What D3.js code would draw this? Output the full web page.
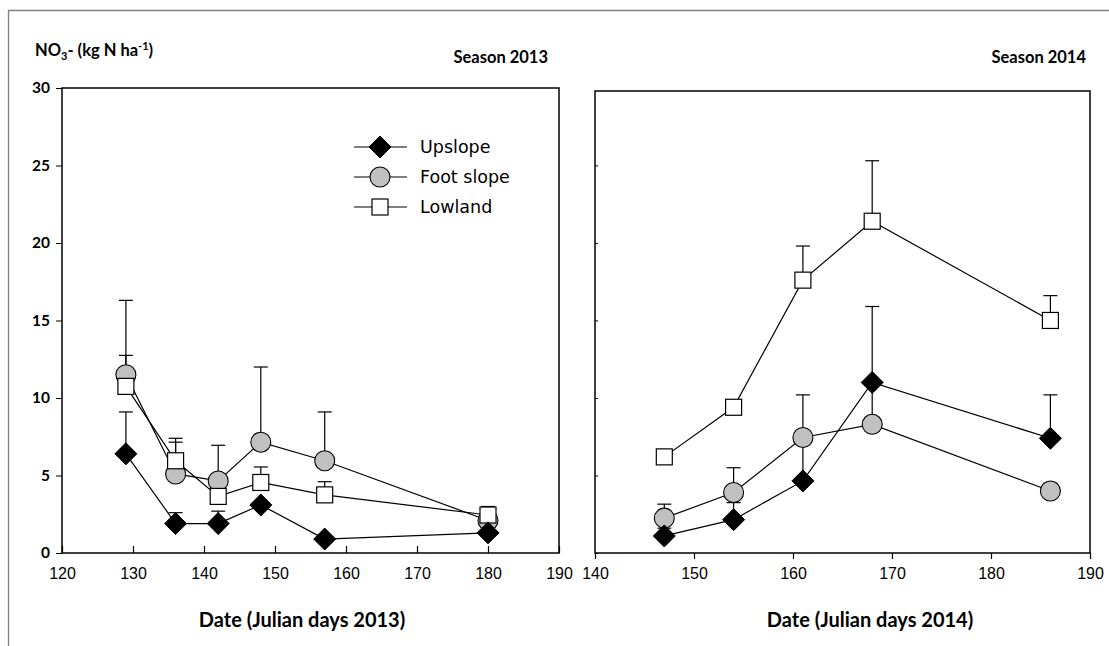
<!DOCTYPE html>
<html><head><meta charset="utf-8">
<script src="https://cdn.jsdelivr.net/npm/d3@7"></script>
<style>
html,body{margin:0;padding:0;background:#fff;}
svg{display:block;}
</style></head>
<body><div id="chart"></div>
<script>
// ---- data ----
const datesA = [129, 136, 142, 148, 157, 180];
const upslopeA = [6.4, 1.9, 1.9, 3.1, 0.9, 1.3];
const upslopeASe = [2.7, 0.7, 0.8, 0, 0, 0];
const footA = [11.5, 5.1, 4.65, 7.15, 5.95, 2.1];
const footASe = [4.8, 2.3, 2.3, 4.85, 3.15, 0];
const lowlandA = [10.75, 5.95, 3.65, 4.55, 3.75, 2.45];
const lowlandASe = [2.0, 1.2, 0.5, 1.0, 0.85, 0.55];

const datesB = [147, 154, 161, 168, 186];
const upslopeB = [1.1, 2.15, 4.65, 11.0, 7.4];
const upslopeBSe = [0.5, 1.1, 2.35, 4.9, 2.8];
const footB = [2.25, 3.9, 7.45, 8.3, 4.0];
const footBSe = [0.9, 1.6, 2.75, 2.6, 0.5];
const lowlandB = [6.2, 9.4, 17.6, 21.4, 15.0];
const lowlandBSe = [0, 0, 2.2, 3.9, 1.6];

const seriesNames = ["Upslope", "Foot slope", "Lowland"];
const yTicks = [0, 5, 10, 15, 20, 25, 30];
const xTicksA = [120, 130, 140, 150, 160, 170, 180, 190];
const xTicksB = [140, 150, 160, 170, 180, 190];

// ---- svg ----
const W = 1109, H = 646;
const svg = d3.select("#chart").append("svg").attr("width", W).attr("height", H);

// outer frame
svg.append("path").attr("d", `M8.5,${H} L8.5,10.5 L${W},10.5`)
  .attr("fill", "none").attr("stroke", "#808080").attr("stroke-width", 1.3);

const boldFont = "Lato, 'Open Sans', sans-serif";
const arialFont = "'Liberation Sans', Arial, sans-serif";

function panel(cfg) {
  const x = d3.scaleLinear().domain(cfg.xDomain).range(cfg.xRange);
  const y = d3.scaleLinear().domain(cfg.yDomain).range(cfg.yRange);
  const g = svg.append("g");
  const [x0, x1] = cfg.xRange, [yb, yt] = cfg.yRange;

  // x axis
  const xa = g.append("g").attr("transform", `translate(0,${yb})`)
    .call(d3.axisBottom(x).tickValues(cfg.xTicks).tickSizeInner(cfg.xTickIn ? -7 : 6).tickSizeOuter(0).tickPadding(cfg.xTickIn ? 15 : 9));
  xa.select(".domain").remove();
  xa.selectAll(".tick line").attr("stroke", "#000").attr("stroke-width", 1.2);
  xa.selectAll(".tick text").attr("font-family", arialFont).attr("font-size", 16).attr("fill", "#000");

  // y axis
  const ya = g.append("g").attr("transform", `translate(${x0},0)`)
    .call(d3.axisLeft(y).tickValues(cfg.yTicks).tickSizeInner(cfg.yLabels ? 6 : -3).tickSizeOuter(0).tickPadding(6)
      .tickFormat(cfg.yLabels ? d3.format("d") : () => ""));
  ya.select(".domain").remove();
  ya.selectAll(".tick line").attr("stroke", "#000").attr("stroke-width", 1);
  ya.selectAll(".tick text").attr("font-family", boldFont).attr("font-weight", "bold").attr("font-size", 15.5).attr("fill", "#000");

  // frame
  g.append("rect").attr("x", x0).attr("y", yt).attr("width", x1 - x0).attr("height", yb - yt)
    .attr("fill", "none").attr("stroke", "#000").attr("stroke-width", 1.5);

  const series = [
    { v: cfg.foot, se: cfg.footSe, shape: "circle" },
    { v: cfg.low, se: cfg.lowSe, shape: "square" },
    { v: cfg.up, se: cfg.upSe, shape: "diamond" }
  ];
  const line = d3.line().x(d => x(d[0])).y(d => y(d[1]));
  series.forEach(s => {
    const pts = cfg.dates.map((d, i) => [d, s.v[i]]);
    g.append("path").attr("d", line(pts)).attr("fill", "none").attr("stroke", "#000").attr("stroke-width", 1.2);
  });
  series.forEach(s => {
    cfg.dates.forEach((d, i) => {
      if (!s.se[i]) return;
      const cx = x(d), top = y(s.v[i] + s.se[i]);
      g.append("line").attr("x1", cx).attr("x2", cx).attr("y1", y(s.v[i])).attr("y2", top)
        .attr("stroke", "#000").attr("stroke-width", 1.2);
      g.append("line").attr("x1", cx - 7).attr("x2", cx + 7).attr("y1", top).attr("y2", top)
        .attr("stroke", "#000").attr("stroke-width", 1.2);
    });
  });
  series.forEach(s => {
    cfg.dates.forEach((d, i) => drawMarker(g, s.shape, x(d), y(s.v[i])));
  });
  return { x, y };
}

function drawMarker(g, shape, cx, cy) {
  if (shape === "circle") {
    g.append("circle").attr("cx", cx).attr("cy", cy).attr("r", 10)
      .attr("fill", "#c0c0c0").attr("stroke", "#000").attr("stroke-width", 1.1);
  } else if (shape === "square") {
    g.append("rect").attr("x", cx - 8).attr("y", cy - 8).attr("width", 16).attr("height", 16)
      .attr("fill", "#fff").attr("stroke", "#000").attr("stroke-width", 1.2);
  } else {
    const r = 11;
    g.append("path").attr("d", `M${cx},${cy - r}L${cx + r},${cy}L${cx},${cy + r}L${cx - r},${cy}Z`)
      .attr("fill", "#000").attr("stroke", "#000").attr("stroke-width", 1);
  }
}

panel({
  xDomain: [120, 190], xRange: [62, 559], yDomain: [0, 30], yRange: [553, 88],
  xTicks: xTicksA, yTicks: yTicks, xTickIn: true, yLabels: true,
  dates: datesA, up: upslopeA, upSe: upslopeASe, foot: footA, footSe: footASe, low: lowlandA, lowSe: lowlandASe
});
panel({
  xDomain: [140, 190], xRange: [595, 1090], yDomain: [0, 29.8], yRange: [553, 91],
  xTicks: xTicksB, yTicks: yTicks.slice(0, 6), xTickIn: false, yLabels: false,
  dates: datesB, up: upslopeB, upSe: upslopeBSe, foot: footB, footSe: footBSe, low: lowlandB, lowSe: lowlandBSe
});

// legend
const legShapes = ["diamond", "circle", "square"];
const legY = [147, 177, 207];
seriesNames.forEach((name, i) => {
  svg.append("line").attr("x1", 354).attr("x2", 407).attr("y1", legY[i]).attr("y2", legY[i])
    .attr("stroke", "#000").attr("stroke-width", 1.2);
  drawMarker(svg, legShapes[i], 380, legY[i]);
  svg.append("text").attr("x", 420).attr("y", legY[i]).attr("dy", "0.35em")
    .attr("font-family", "'DejaVu Sans', Verdana, sans-serif").attr("font-size", 17.5).text(name);
});

// titles
const t = svg.append("text").attr("x", 35).attr("y", 56).attr("font-family", boldFont)
  .attr("font-weight", "bold").attr("font-size", 16.5);
t.append("tspan").text("NO");
t.append("tspan").attr("font-size", 11).attr("dy", 4).text("3");
t.append("tspan").attr("dy", -4).text("- (kg N ha");
t.append("tspan").attr("font-size", 11).attr("dy", -6).text("-1");
t.append("tspan").attr("dy", 6).text(")");

svg.append("text").attr("x", 548).attr("y", 63).attr("text-anchor", "end").attr("font-family", boldFont)
  .attr("font-weight", "bold").attr("font-size", 16.5).text("Season 2013");
svg.append("text").attr("x", 1086).attr("y", 63).attr("text-anchor", "end").attr("font-family", boldFont)
  .attr("font-weight", "bold").attr("font-size", 16.5).text("Season 2014");

svg.append("text").attr("x", 302).attr("y", 627).attr("text-anchor", "middle").attr("font-family", boldFont)
  .attr("font-weight", "bold").attr("font-size", 20).text("Date (Julian days 2013)");
svg.append("text").attr("x", 870).attr("y", 627).attr("text-anchor", "middle").attr("font-family", boldFont)
  .attr("font-weight", "bold").attr("font-size", 20).text("Date (Julian days 2014)");
</script>
</body></html>
